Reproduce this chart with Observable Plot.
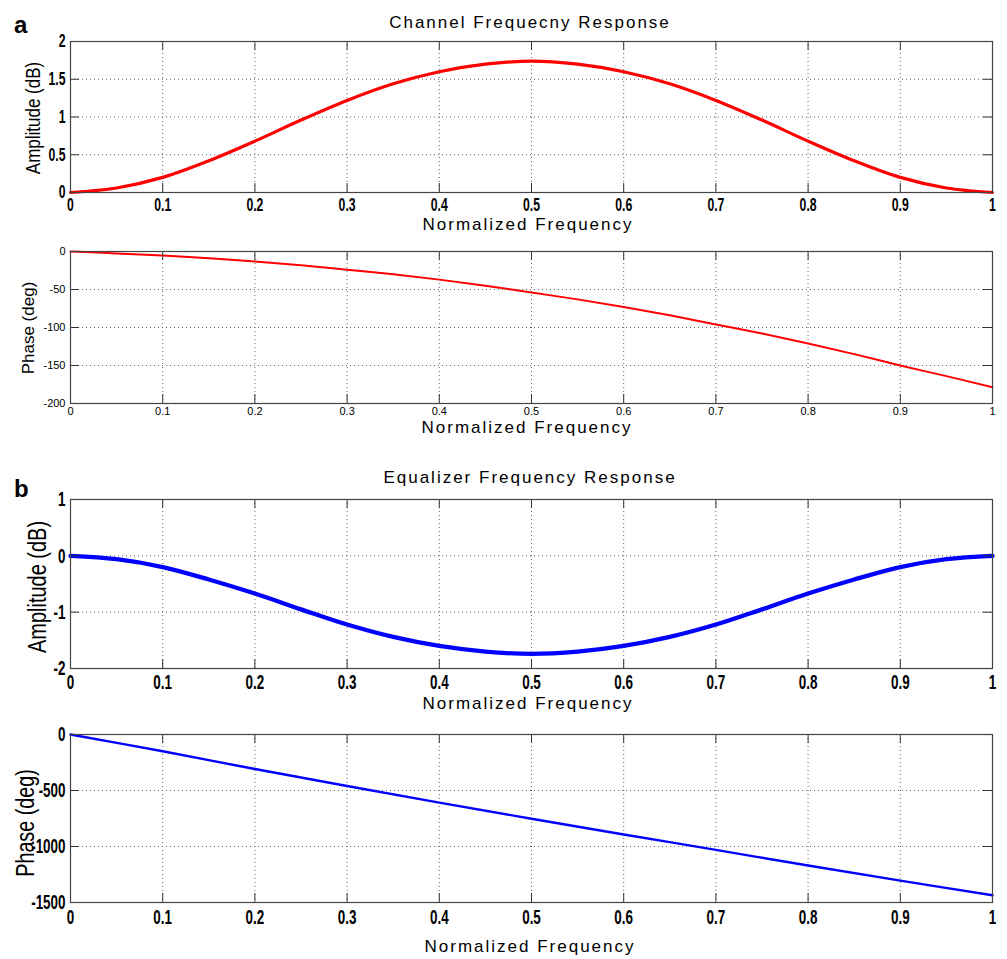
<!DOCTYPE html>
<html>
<head>
<meta charset="utf-8">
<script src="https://cdn.jsdelivr.net/npm/d3@7"></script>
<script src="https://cdn.jsdelivr.net/npm/@observablehq/plot@0.6"></script>
<style>
  html, body { margin: 0; padding: 0; background: #fff; }
  #wrap { position: relative; width: 1007px; height: 959px; overflow: hidden; background: #fff; }
  #wrap svg.plot-panel { position: absolute; left: 0; }
  #overlay { position: absolute; left: 0; top: 0; pointer-events: none; }
</style>
</head>
<body>
<div id="wrap"></div>
<script>
// ---------- data ----------
const freq = [0, 0.05, 0.1, 0.15, 0.2, 0.25, 0.3, 0.35, 0.4, 0.45, 0.5,
              0.55, 0.6, 0.65, 0.7, 0.75, 0.8, 0.85, 0.9, 0.95, 1];
const chanAmp = [0, 0.06, 0.2, 0.42, 0.68, 0.96, 1.22, 1.44, 1.6, 1.7, 1.74,
                 1.7, 1.6, 1.44, 1.22, 0.96, 0.68, 0.42, 0.2, 0.06, 0];
const chanPhase = [0, -2.5, -5.3, -9, -13, -18, -24, -30, -37, -45, -54,
                   -63, -73, -84, -96, -108, -121, -135, -150, -164, -178.5];
const eqAmp = [0, -0.06, -0.2, -0.42, -0.67, -0.95, -1.22, -1.44, -1.6, -1.7, -1.74,
               -1.7, -1.6, -1.44, -1.22, -0.95, -0.67, -0.42, -0.2, -0.06, 0];
const freqCoarse = [0, 0.1, 0.2, 0.3, 0.4, 0.5, 0.6, 0.7, 0.8, 0.9, 1];
const eqPhase = [0, -150, -308, -460, -608, -752, -893, -1030, -1170, -1305, -1435];

const xTicks = [0, 0.1, 0.2, 0.3, 0.4, 0.5, 0.6, 0.7, 0.8, 0.9, 1];
const ampTicksA = [0, 0.5, 1, 1.5, 2];
const phaseTicksA = [0, -50, -100, -150, -200];
const ampTicksB = [-2, -1, 0, 1];
const phaseTicksB = [-1500, -1000, -500, 0];

const titleA = "Channel Frequecny Response";
const titleB = "Equalizer Frequency Response";
const xLabel = "Normalized Frequency";
const ampLabel = "Amplitude (dB)";
const phaseLabel = "Phase (deg)";

// ---------- drawing ----------
const W = 1007, ML = 70, MR = 15;
const REG = "'Liberation Sans', Arial, Helvetica, sans-serif";
const wrap = document.getElementById("wrap");

function squeeze(svg, sx) {
  if (sx === 1) return;
  svg.querySelectorAll('g[aria-label="x-axis tick label"] text, g[aria-label="y-axis tick label"] text').forEach(t => {
    const tr = t.getAttribute("transform") || "";
    t.setAttribute("transform", `${tr} scale(${sx},1)`);
  });
}

function panel(o) {
  const ph = o.height - o.mt - o.mb;
  const pw = W - ML - MR;
  const innerX = xTicks.filter(d => d > 0 && d < 1);
  const innerY = o.yTicks.filter(d => d > o.yDomain[0] && d < o.yDomain[1]);
  const rows = o.xs.map((f, i) => ({f, v: o.vals[i]}));
  const tickCol = "#333";
  const svg = Plot.plot({
    width: W, height: o.height,
    marginLeft: ML, marginRight: MR, marginTop: o.mt, marginBottom: o.mb,
    style: {background: "transparent", overflow: "visible"},
    x: {domain: [0, 1], label: null},
    y: {domain: o.yDomain, label: null},
    marks: [
      Plot.gridX(innerX, {stroke: "#666", strokeOpacity: 1, strokeWidth: 1, strokeDasharray: "1,3"}),
      Plot.gridY(innerY, {stroke: "#666", strokeOpacity: 1, strokeWidth: 1, strokeDasharray: "1,3"}),
      Plot.line(rows, {x: "f", y: "v", stroke: o.stroke, strokeWidth: o.sw, curve: "catmull-rom"}),
      Plot.tickX(innerX, {x: d => d, stroke: tickCol, insetTop: ph - 9}),
      Plot.tickX(innerX, {x: d => d, stroke: tickCol, insetBottom: ph - 9}),
      Plot.tickY(innerY, {y: d => d, stroke: tickCol, insetRight: pw - 9}),
      Plot.tickY(innerY, {y: d => d, stroke: tickCol, insetLeft: pw - 9}),
      Plot.frame({stroke: "#444", strokeWidth: 1.2}),
      Plot.axisX(xTicks, {tickSize: 0, tickPadding: o.xPad, tickFormat: d => String(d),
        fontSize: o.fs, fontFamily: REG, fontWeight: o.fw, fill: "#000", label: null}),
      Plot.axisY(o.yTicks, {tickSize: 0, tickPadding: 5, tickFormat: d => String(d),
        fontSize: o.fs, fontFamily: REG, fontWeight: o.fw, fill: "#000", label: null})
    ]
  });
  squeeze(svg, o.sx);
  svg.classList.add("plot-panel");
  svg.style.top = o.top + "px";
  wrap.appendChild(svg);
}

panel({top: 0, height: 240, mt: 41, mb: 48, yDomain: [0, 2], yTicks: ampTicksA,
       xs: freq, vals: chanAmp, stroke: "#ff0000", sw: 3.2, fs: 18, fw: "bold", sx: 0.68, xPad: 6});
panel({top: 240, height: 200, mt: 11, mb: 37, yDomain: [-200, 0], yTicks: phaseTicksA,
       xs: freq, vals: chanPhase, stroke: "#ff0000", sw: 2, fs: 11, fw: "normal", sx: 1, xPad: 4});
panel({top: 460, height: 240, mt: 39, mb: 32, yDomain: [-2, 1], yTicks: ampTicksB,
       xs: freq, vals: eqAmp, stroke: "#0000ff", sw: 4.3, fs: 21, fw: "bold", sx: 0.64, xPad: 6});
panel({top: 700, height: 240, mt: 34, mb: 38, yDomain: [-1500, 0], yTicks: phaseTicksB,
       xs: freqCoarse, vals: eqPhase, stroke: "#0000ff", sw: 2.4, fs: 21, fw: "bold", sx: 0.64, xPad: 7});

// ---------- text overlay ----------
const NS = "http://www.w3.org/2000/svg";
const ov = document.createElementNS(NS, "svg");
ov.setAttribute("id", "overlay");
ov.setAttribute("width", W);
ov.setAttribute("height", 959);
wrap.appendChild(ov);
function txt(s, x, y, opts) {
  const t = document.createElementNS(NS, "text");
  t.textContent = s;
  t.setAttribute("x", 0); t.setAttribute("y", 0);
  let tr = `translate(${x},${y})`;
  if (opts.rot) tr += " rotate(-90)";
  if (opts.sx) tr += ` scale(${opts.sx},1)`;
  t.setAttribute("transform", tr);
  t.setAttribute("text-anchor", opts.anchor || "middle");
  if (opts.rot) t.setAttribute("dy", "0.35em");
  t.setAttribute("font-family", REG);
  t.setAttribute("font-size", opts.fs);
  if (opts.fw) t.setAttribute("font-weight", opts.fw);
  if (opts.ls) t.setAttribute("letter-spacing", opts.ls);
  t.setAttribute("fill", "#000");
  ov.appendChild(t);
}
txt(titleA, 530, 27.5, {fs: 17, ls: 2});
txt(titleB, 530, 483, {fs: 17, ls: 2});
txt(xLabel, 528, 229.5, {fs: 17, ls: 2});
txt(xLabel, 527, 433, {fs: 17, ls: 2});
txt(xLabel, 528, 709, {fs: 17, ls: 2});
txt(xLabel, 530, 952, {fs: 17, ls: 2});
txt("a", 14, 33, {fs: 24, fw: "bold", anchor: "start"});
txt("b", 14, 497, {fs: 24, fw: "bold", anchor: "start"});
txt(ampLabel, 33, 118, {fs: 21, sx: 0.81, rot: true});
txt(phaseLabel, 28, 328, {fs: 17, rot: true});
txt(ampLabel, 37, 587, {fs: 25, sx: 0.8, rot: true});
txt(phaseLabel, 25, 823, {fs: 25, sx: 0.79, rot: true});
</script>
</body>
</html>
